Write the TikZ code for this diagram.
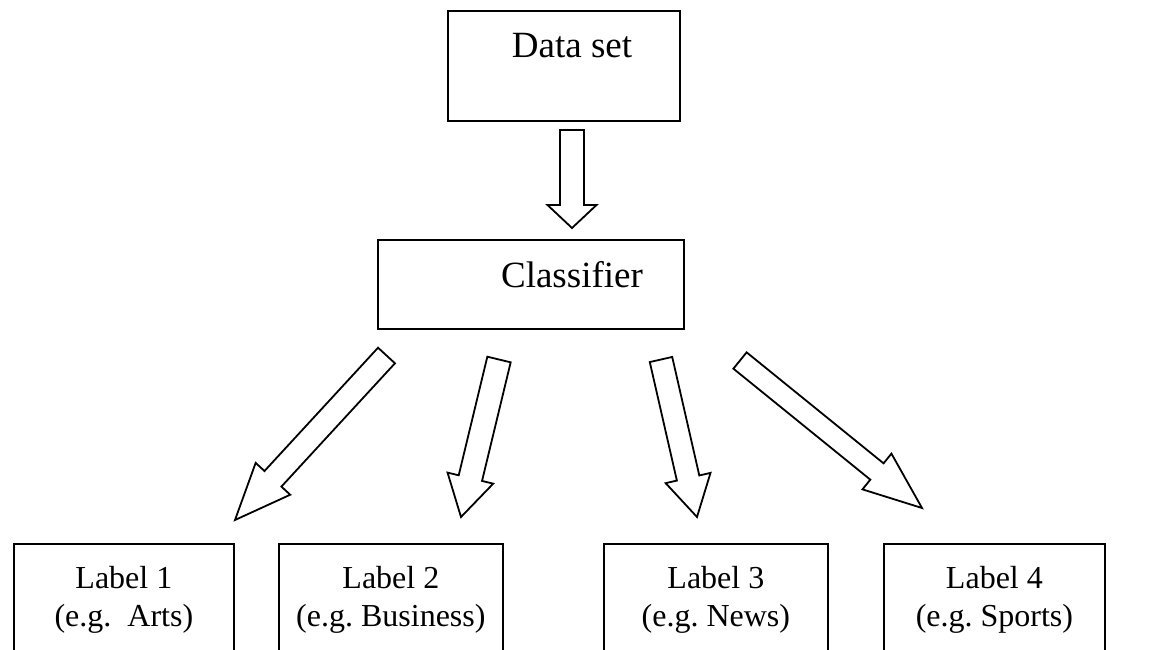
\documentclass[tikz,border=0pt]{standalone}
\usepackage{fontspec}
\setmainfont{Liberation Serif}
\usetikzlibrary{calc}
\frenchspacing

\tikzset{
  box/.style={draw, line width=1.8pt, inner sep=0pt},
  outline/.style={draw, line width=1.8pt, line join=miter, fill=white},
  toptext/.style={font=\fontsize{37}{44}\selectfont, anchor=base, inner sep=0pt},
  labtext/.style={font=\fontsize{32}{38}\selectfont, align=center, anchor=north, inner sep=0pt},
}

% Hollow block arrow from #1 (tail) to #2 (tip):
% #3 half shaft width, #4 half head width, #5 head length
\newcommand\blockarrow[5]{%
  \coordinate (ba-neck) at ($(#2)!#5!(#1)$);
  \draw[outline]
    ($(#1)!#3!90:(#2)$) -- ($(ba-neck)!#3!-90:(#1)$) -- ($(ba-neck)!#4!-90:(#1)$)
    -- (#2)
    -- ($(ba-neck)!#4!90:(#1)$) -- ($(ba-neck)!#3!90:(#1)$) -- ($(#1)!#3!-90:(#2)$)
    -- cycle;
}

\begin{document}
\begin{tikzpicture}[x=1pt, y=-1pt]
  \clip (0,0) rectangle (1156,649);
  \fill[white] (0,0) rectangle (1156,649);

  % boxes
  \node[box, anchor=north west, minimum width=232pt, minimum height=110pt] (data) at (447,10) {};
  \node[box, anchor=north west, minimum width=306pt, minimum height=89pt] (clf) at (377,239) {};
  \node[box, anchor=north west, minimum width=220pt, minimum height=160pt] (l1) at (13,543) {};
  \node[box, anchor=north west, minimum width=224pt, minimum height=160pt] (l2) at (278,543) {};
  \node[box, anchor=north west, minimum width=224pt, minimum height=160pt] (l3) at (603,543) {};
  \node[box, anchor=north west, minimum width=221pt, minimum height=160pt] (l4) at (883,543) {};

  % texts
  \node[toptext] (datatext) at (572,57) {Data set};
  \node[toptext] (clftext) at (572,287) {Classifier};
  \node[labtext] (l1text) at ([yshift=-23pt]l1.north) {Label 1\\(e.g.\hspace{0.5em}Arts)};
  \node[labtext] (l2text) at ([yshift=-23pt]l2.north) {Label 2\\(e.g. Business)};
  \node[labtext] (l3text) at ([yshift=-23pt]l3.north) {Label 3\\(e.g. News)};
  \node[labtext] (l4text) at ([yshift=-23pt]l4.north) {Label 4\\(e.g. Sports)};

  % arrow ends
  \coordinate (a0t) at (572,130);   \coordinate (a0h) at (572,228);
  \coordinate (a1t) at (386.5,355.5); \coordinate (a1h) at (235,520);
  \coordinate (a2t) at (499,359.5); \coordinate (a2h) at (461,517);
  \coordinate (a3t) at (661,359.5); \coordinate (a3h) at (697,517);
  \coordinate (a4t) at (740,360.5); \coordinate (a4h) at (922,508);

  % arrows
  \blockarrow{a0t}{a0h}{12pt}{24.5pt}{23pt}
  \blockarrow{a1t}{a1h}{11.5pt}{23.5pt}{56pt}
  \blockarrow{a2t}{a2h}{12pt}{23.5pt}{40pt}
  \blockarrow{a3t}{a3h}{11.5pt}{23pt}{40pt}
  \blockarrow{a4t}{a4h}{10.5pt}{23pt}{58pt}
\end{tikzpicture}
\end{document}
